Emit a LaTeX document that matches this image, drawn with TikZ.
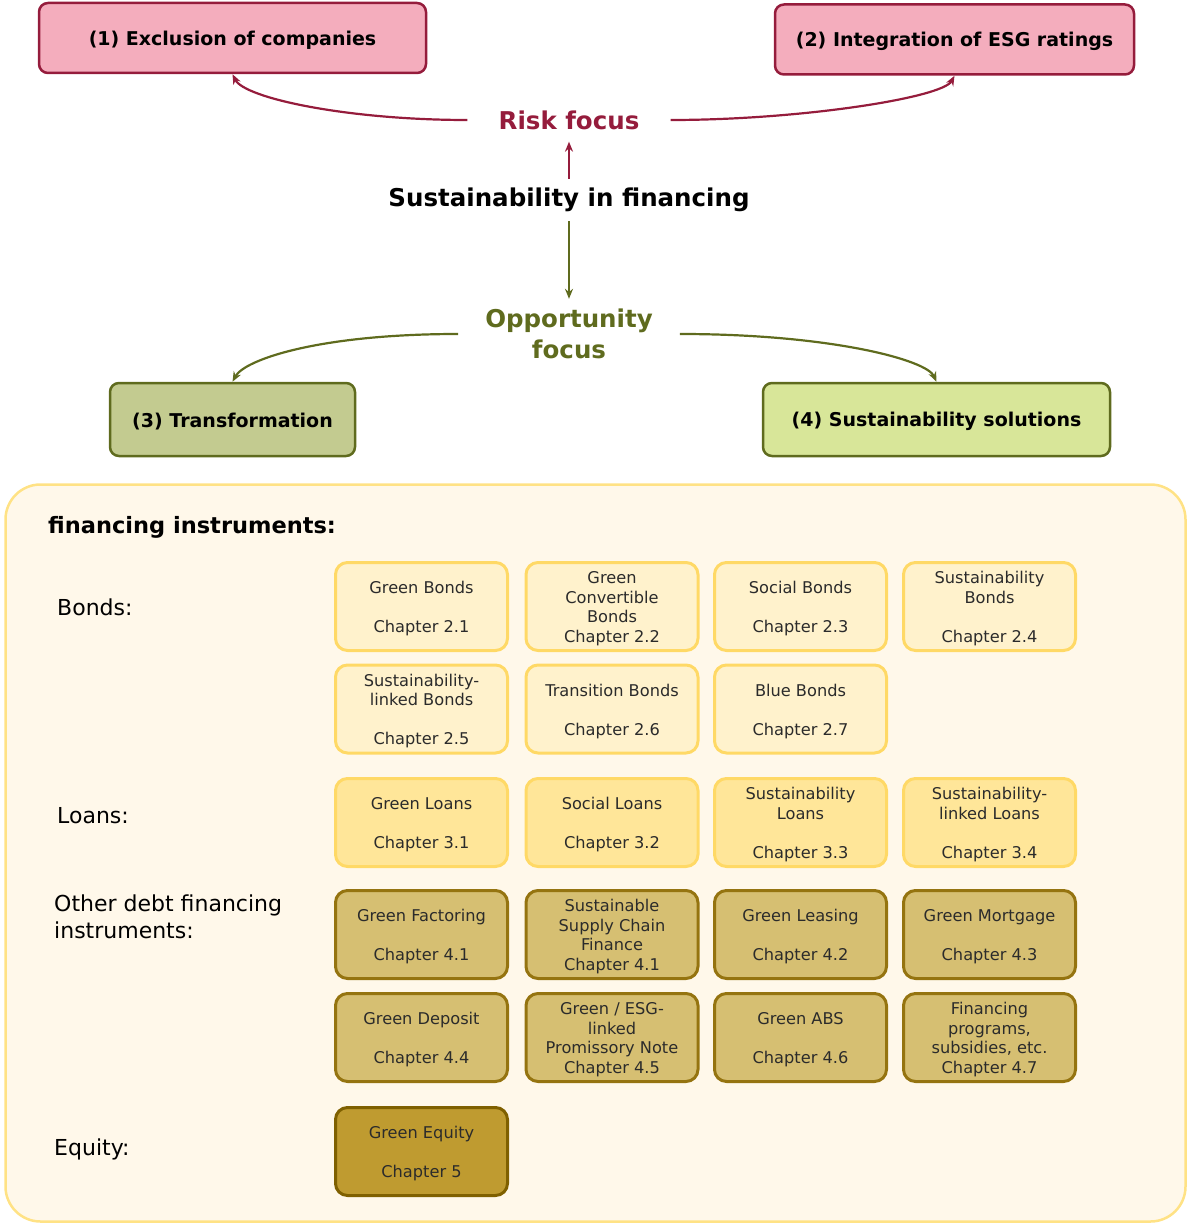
\documentclass[tikz,border=0pt]{standalone}
\usepackage{fontspec}
\setmainfont{DejaVu Sans}
\usetikzlibrary{arrows.meta}
\definecolor{riskred}{HTML}{951C3C}
\definecolor{pinkfill}{HTML}{F4ADBD}
\definecolor{olive}{HTML}{5F6B1E}
\definecolor{oliveA}{HTML}{C3CB90}
\definecolor{oliveB}{HTML}{D8E699}
\definecolor{panelfill}{HTML}{FFF8EA}
\definecolor{panelline}{HTML}{FFE285}
\definecolor{bondfill}{HTML}{FFF2CC}
\definecolor{yline}{HTML}{FFD966}
\definecolor{loanfill}{HTML}{FFE699}
\definecolor{otherfill}{HTML}{D6BF72}
\definecolor{otherline}{HTML}{957410}
\definecolor{eqfill}{HTML}{BF9B30}
\definecolor{eqline}{HTML}{7F6000}
\definecolor{txt}{HTML}{2B2B2B}
\newcommand\tallst{\rule{0pt}{16.5pt}}
\begin{document}
\begin{tikzpicture}[x=1pt,y=-1pt,
  topbox/.style={draw, rounded corners=9pt, line width=2.5pt, inner sep=0pt,
    font=\fontsize{19}{23}\selectfont\bfseries, text=black, minimum height=70pt,
    execute at begin node={\rule{0pt}{18.5pt}}},
  redbox/.style={topbox, draw=riskred, fill=pinkfill},
  greenbox/.style={topbox, draw=olive},
  inst/.style={draw, rounded corners=12pt, line width=3pt, minimum width=172pt,
    minimum height=88pt, inner sep=0pt, align=center, text=txt,
    font=\fontsize{16.2}{19.5}\selectfont},
  bond/.style={inst, fill=bondfill, draw=yline},
  loan/.style={inst, fill=loanfill, draw=yline},
  other/.style={inst, fill=otherfill, draw=otherline},
  eq/.style={inst, fill=eqfill, draw=eqline},
  rowlab/.style={anchor=west, align=left, text=black,
    font=\fontsize{22}{27}\selectfont},
  redline/.style={draw=riskred, line width=2.2pt, -{Stealth[length=10pt,width=8pt]}},
  greenline/.style={draw=olive, line width=2.2pt, -{Stealth[length=10pt,width=8pt]}}
]
\useasboundingbox (0,0) rectangle (1187,1225);

% top boxes
\node[redbox, minimum width=387pt] (excl) at (232.5,38) {(1) Exclusion of companies};
\node[redbox, minimum width=359pt] (esg) at (954.5,39.5) {(2) Integration of ESG ratings};
\node[greenbox, fill=oliveA, minimum width=245pt, minimum height=73pt] (trans) at (232.5,419.5) {(3) Transformation};
\node[greenbox, fill=oliveB, minimum width=347pt, minimum height=73pt] (sol) at (936.5,419.5) {(4) Sustainability solutions};

% central texts
\node[text=riskred, font=\fontsize{24.5}{29}\selectfont\bfseries, inner xsep=31pt, inner ysep=12pt] (risk) at (569,120) {Risk focus};
\node[text=black, font=\fontsize{24.5}{29}\selectfont\bfseries, inner ysep=9pt] (fin) at (569,200) {Sustainability in financing};
\node[text=olive, font=\fontsize{24.5}{31}\selectfont\bfseries, align=center, inner xsep=27pt, inner ysep=10pt] (opp) at (569,334) {Opportunity\\focus};

% connectors
\draw[redline] (fin.north) -- (risk.south);
\draw[greenline] (fin.south) -- (opp.north);
\draw[redline] (risk.west) .. controls +(-120,0) and +(12,24) .. (excl.south);
\draw[redline] (risk.east) .. controls +(130,0) and +(-12,22) .. (esg.south);
\draw[greenline] (opp.west) .. controls +(-140,0) and +(12,-22) .. (trans.north);
\draw[greenline] (opp.east) .. controls +(150,0) and +(-10,-22) .. (sol.north);

% panel
\node[draw=panelline, fill=panelfill, line width=2.5pt, rounded corners=35pt,
  minimum width=1180pt, minimum height=737pt, inner sep=0pt] (panel) at (595.5,853) {};
\node[anchor=west, text=black, font=\fontsize{22.5}{27}\selectfont\bfseries, inner sep=0pt] (fi) at (48,527) {financing instruments:};

\node[rowlab, inner sep=0pt] (lb) at (57,607) {Bonds:};
\node[rowlab, inner sep=0pt] (ll) at (57,816) {Loans:};
\node[rowlab, inner sep=0pt] (lo) at (54,917) {Other debt financing\\instruments:};
\node[rowlab, inner sep=0pt] (le) at (54,1149) {Equity:};

% bonds
\node[bond] (b1) at (421.5,606.5) {\tallst Green Bonds\\[19.5pt]Chapter 2.1};
\node[bond] (b2) at (612,606.5) {\tallst Green\\Convertible\\Bonds\\Chapter 2.2};
\node[bond] (b3) at (800.5,606.5) {\tallst Social Bonds\\[19.5pt]Chapter 2.3};
\node[bond] (b4) at (989.5,606.5) {\tallst Sustainability\\Bonds\\[19.5pt]Chapter 2.4};
\node[bond] (b5) at (421.5,709) {\tallst Sustainability-\\linked Bonds\\[19.5pt]Chapter 2.5};
\node[bond] (b6) at (612,709) {\tallst Transition Bonds\\[19.5pt]Chapter 2.6};
\node[bond] (b7) at (800.5,709) {\tallst Blue Bonds\\[19.5pt]Chapter 2.7};

% loans
\node[loan] (l1) at (421.5,822.5) {\tallst Green Loans\\[19.5pt]Chapter 3.1};
\node[loan] (l2) at (612,822.5) {\tallst Social Loans\\[19.5pt]Chapter 3.2};
\node[loan] (l3) at (800.5,822.5) {\tallst Sustainability\\Loans\\[19.5pt]Chapter 3.3};
\node[loan] (l4) at (989.5,822.5) {\tallst Sustainability-\\linked Loans\\[19.5pt]Chapter 3.4};

% other
\node[other] (o1) at (421.5,934.5) {\tallst Green Factoring\\[19.5pt]Chapter 4.1};
\node[other] (o2) at (612,934.5) {\tallst Sustainable\\Supply Chain\\Finance\\Chapter 4.1};
\node[other] (o3) at (800.5,934.5) {\tallst Green Leasing\\[19.5pt]Chapter 4.2};
\node[other] (o4) at (989.5,934.5) {\tallst Green Mortgage\\[19.5pt]Chapter 4.3};
\node[other] (o5) at (421.5,1037.5) {\tallst Green Deposit\\[19.5pt]Chapter 4.4};
\node[other] (o6) at (612,1037.5) {\tallst Green / ESG-\\linked\\Promissory Note\\Chapter 4.5};
\node[other] (o7) at (800.5,1037.5) {\tallst Green ABS\\[19.5pt]Chapter 4.6};
\node[other] (o8) at (989.5,1037.5) {\tallst Financing\\programs,\\subsidies, etc.\\Chapter 4.7};

% equity
\node[eq] (e1) at (421.5,1151.5) {\tallst Green Equity\\[19.5pt]Chapter 5};
\end{tikzpicture}
\end{document}
